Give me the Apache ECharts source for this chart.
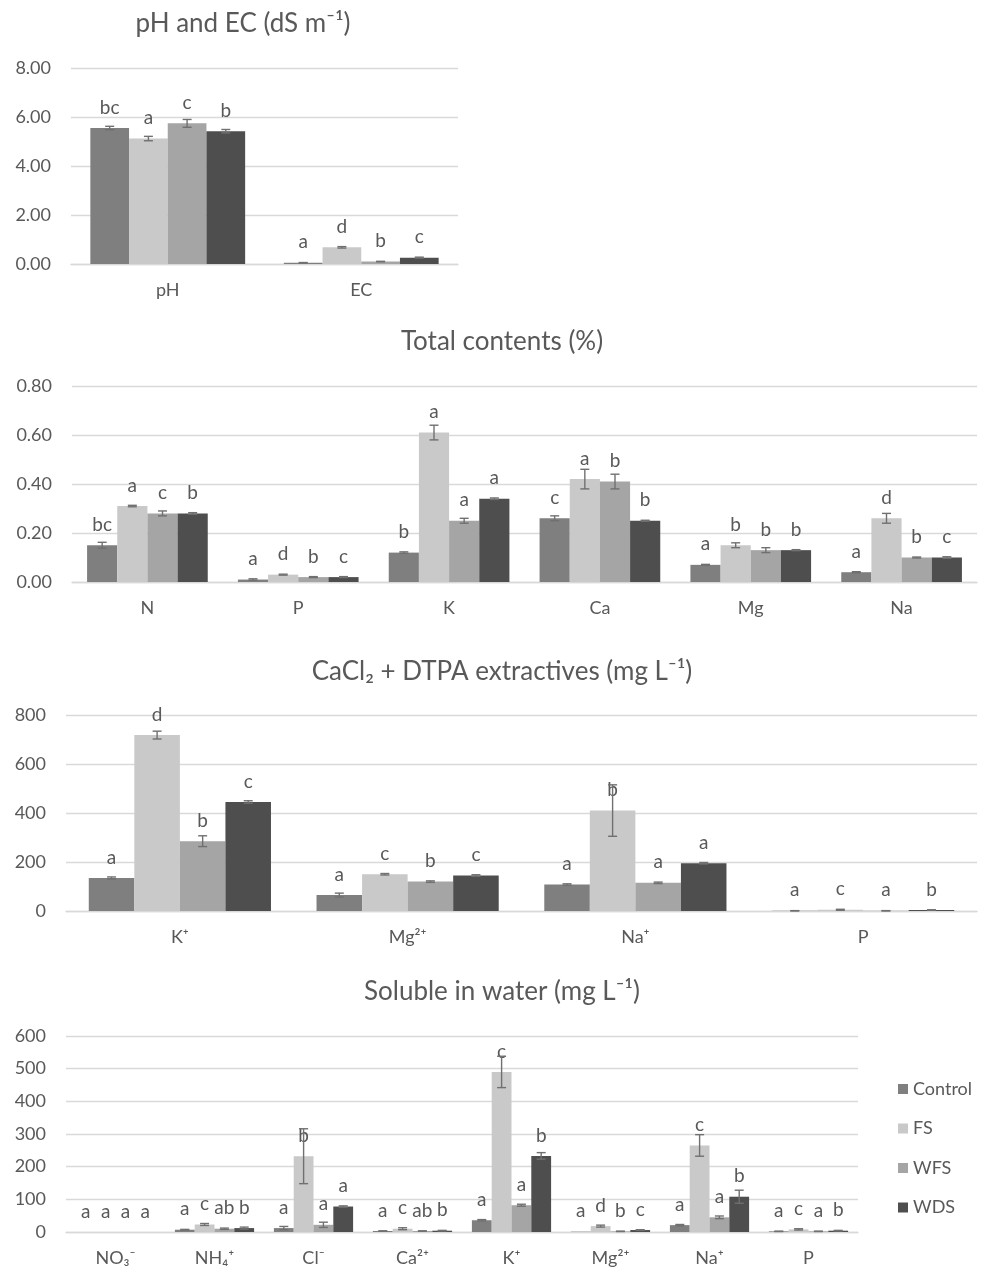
<!DOCTYPE html>
<html><head><meta charset="utf-8">
<script src="https://cdn.jsdelivr.net/npm/echarts@6/dist/echarts.min.js"></script>
<style>html,body{margin:0;padding:0;background:#fff}#c{width:987px;height:1269px}</style>
</head><body><div id="c"></div>
<script>
const seriesNames = ['Control', 'FS', 'WFS', 'WDS'];

// Panel 1: pH and EC
const cats1 = ['pH', 'EC'];
const p1Control = [5.55, 0.05], p1ControlErr = [0.07, 0.01], p1ControlLab = ['bc', 'a'];
const p1FS = [5.12, 0.68], p1FSErr = [0.09, 0.03], p1FSLab = ['a', 'd'];
const p1WFS = [5.74, 0.10], p1WFSErr = [0.16, 0.01], p1WFSLab = ['c', 'b'];
const p1WDS = [5.42, 0.26], p1WDSErr = [0.07, 0.02], p1WDSLab = ['b', 'c'];

// Panel 2: Total contents (%)
const cats2 = ['N', 'P', 'K', 'Ca', 'Mg', 'Na'];
const p2Control = [0.15, 0.01, 0.12, 0.26, 0.07, 0.04], p2ControlErr = [0.012, 0.003, 0.003, 0.01, 0.002, 0.002], p2ControlLab = ['bc', 'a', 'b', 'c', 'a', 'a'];
const p2FS = [0.31, 0.03, 0.61, 0.42, 0.15, 0.26], p2FSErr = [0.003, 0.002, 0.03, 0.04, 0.01, 0.02], p2FSLab = ['a', 'd', 'a', 'a', 'b', 'd'];
const p2WFS = [0.28, 0.02, 0.25, 0.41, 0.13, 0.10], p2WFSErr = [0.01, 0.002, 0.01, 0.03, 0.01, 0.002], p2WFSLab = ['c', 'b', 'a', 'b', 'b', 'b'];
const p2WDS = [0.28, 0.02, 0.34, 0.25, 0.13, 0.10], p2WDSErr = [0.003, 0.002, 0.003, 0.002, 0.002, 0.003], p2WDSLab = ['b', 'c', 'a', 'b', 'b', 'c'];

// Panel 3: CaCl2 + DTPA extractives (mg L-1)
const cats3 = ['K⁺', 'Mg²⁺', 'Na⁺', 'P'];
const p3Control = [135, 65, 108, 1], p3ControlErr = [4, 8, 3, 0.5], p3ControlLab = ['a', 'a', 'a', 'a'];
const p3FS = [718, 150, 410, 5], p3FSErr = [16, 3, 105, 2], p3FSLab = ['d', 'c', 'b', 'c'];
const p3WFS = [285, 120, 115, 1], p3WFSErr = [22, 3, 3, 0.5], p3WFSLab = ['b', 'b', 'a', 'a'];
const p3WDS = [445, 145, 195, 4], p3WDSErr = [5, 3, 3, 1], p3WDSLab = ['c', 'c', 'a', 'b'];

// Panel 4: Soluble in water (mg L-1)
const cats4 = ['NO₃⁻', 'NH₄⁺', 'Cl⁻', 'Ca²⁺', 'K⁺', 'Mg²⁺', 'Na⁺', 'P'];
const p4Control = [0, 7, 12, 3, 36, 1, 21, 2], p4ControlErr = [0, 1, 5, 0.5, 2, 0, 2, 0.5], p4ControlLab = ['a', 'a', 'a', 'a', 'a', 'a', 'a', 'a'];
const p4FS = [0, 23, 232, 10, 490, 18, 265, 8], p4FSErr = [0, 3, 84, 3, 48, 3, 33, 2], p4FSLab = ['a', 'c', 'b', 'c', 'c', 'd', 'c', 'c'];
const p4WFS = [0, 10, 22, 3, 82, 2, 45, 2], p4WFSErr = [0, 2, 8, 0.5, 3, 0.5, 4, 0.5], p4WFSLab = ['a', 'ab', 'a', 'ab', 'a', 'b', 'a', 'a'];
const p4WDS = [0, 12, 78, 4, 233, 6, 108, 4], p4WDSErr = [0, 3, 2, 1, 10, 1, 20, 1], p4WDSLab = ['a', 'b', 'a', 'b', 'b', 'c', 'b', 'b'];

const yMax = [8, 0.8, 800, 600];
const yInterval = [2, 0.2, 200, 100];
const yDecimals = [2, 2, 0, 0];
const titles = ['pH and EC (dS m⁻¹)', 'Total contents (%)', 'CaCl₂ + DTPA extractives (mg L⁻¹)', 'Soluble in water (mg L⁻¹)'];

const panels = [
  { cats: cats1, vals: [p1Control, p1FS, p1WFS, p1WDS], errs: [p1ControlErr, p1FSErr, p1WFSErr, p1WDSErr], labs: [p1ControlLab, p1FSLab, p1WFSLab, p1WDSLab] },
  { cats: cats2, vals: [p2Control, p2FS, p2WFS, p2WDS], errs: [p2ControlErr, p2FSErr, p2WFSErr, p2WDSErr], labs: [p2ControlLab, p2FSLab, p2WFSLab, p2WDSLab] },
  { cats: cats3, vals: [p3Control, p3FS, p3WFS, p3WDS], errs: [p3ControlErr, p3FSErr, p3WFSErr, p3WDSErr], labs: [p3ControlLab, p3FSLab, p3WFSLab, p3WDSLab] },
  { cats: cats4, vals: [p4Control, p4FS, p4WFS, p4WDS], errs: [p4ControlErr, p4FSErr, p4WFSErr, p4WDSErr], labs: [p4ControlLab, p4FSLab, p4WFSLab, p4WDSLab] }
];

// layout / style
const FONT = 'Lato';
const TXT = '#595959';
const GRIDC = '#d9d9d9';
const colors = ['#7f7f7f', '#c9c9c9', '#a5a5a5', '#4e4e4e'];
const grids = [
  { left: 71, width: 387, top: 68, height: 196 },
  { left: 72, width: 905, top: 386, height: 196 },
  { left: 66, width: 911, top: 715, height: 196 },
  { left: 66, width: 792, top: 1036, height: 196 }
];
const titlePos = [
  { x: 238, y: 6 },
  { x: 497, y: 324 },
  { x: 497, y: 654 },
  { x: 497, y: 974 }
];

const option = {
  backgroundColor: '#fff',
  animation: false,
  textStyle: { fontFamily: FONT },
  color: colors,
  title: titles.map((t, i) => ({
    text: t, left: titlePos[i].x, top: titlePos[i].y, textAlign: 'center',
    textStyle: { color: TXT, fontSize: 26, fontWeight: 'normal', fontFamily: FONT }
  })),
  legend: {
    data: seriesNames, orient: 'vertical', left: 893, top: 1075,
    itemWidth: 10, itemHeight: 10, itemGap: 21.5, icon: 'rect',
    textStyle: { color: TXT, fontSize: 18, fontFamily: FONT }
  },
  grid: grids.map(g => Object.assign({ containLabel: false }, g)),
  xAxis: panels.map((p, i) => ({
    type: 'category', gridIndex: i, data: p.cats,
    axisLine: { lineStyle: { color: GRIDC, width: 1.3 } },
    axisTick: { show: false },
    axisLabel: { color: TXT, fontSize: 18, margin: 17, fontFamily: FONT }
  })),
  yAxis: panels.map((p, i) => ({
    type: 'value', gridIndex: i, min: 0, max: yMax[i], interval: yInterval[i],
    axisLine: { show: false }, axisTick: { show: false },
    splitLine: { lineStyle: { color: GRIDC, width: 1.3 } },
    axisLabel: { color: TXT, fontSize: 18, margin: 20, fontFamily: FONT,
      formatter: v => v.toFixed(yDecimals[i]) }
  })),
  series: []
};

panels.forEach((p, gi) => {
  p.vals.forEach((vals, s) => {
    option.series.push({
      type: 'bar', name: seriesNames[s], xAxisIndex: gi, yAxisIndex: gi,
      data: vals, barGap: '0%', barCategoryGap: '20%',
      itemStyle: { color: colors[s] },
      label: {
        show: true, position: 'top', distance: 11, color: TXT, fontSize: 19, fontFamily: FONT,
        formatter: pr => p.labs[s][pr.dataIndex]
      },
      emphasis: { disabled: true }
    });
  });
  p.vals.forEach((vals, s) => {
    const errs = p.errs[s];
    option.series.push({
      type: 'custom', name: seriesNames[s], xAxisIndex: gi, yAxisIndex: gi, z: 5, silent: true,
      data: vals.map((v, i) => [i, v - errs[i], v + errs[i], errs[i]]),
      encode: { x: 0, y: [1, 2] },
      renderItem: (params, api) => {
        if (!(api.value(3) > 0)) return null;
        const band = api.size([1, 0])[0];
        const bw = band * 0.8 / 4;
        const dx = -band * 0.4 + bw * (s + 0.5);
        const lo = api.coord([api.value(0), api.value(1)]);
        const hi = api.coord([api.value(0), api.value(2)]);
        const x = lo[0] + dx, hw = 4.5;
        const st = { stroke: '#707070', lineWidth: 1.4 };
        return { type: 'group', children: [
          { type: 'line', shape: { x1: x, y1: hi[1], x2: x, y2: lo[1] }, style: st },
          { type: 'line', shape: { x1: x - hw, y1: hi[1], x2: x + hw, y2: hi[1] }, style: st },
          { type: 'line', shape: { x1: x - hw, y1: lo[1], x2: x + hw, y2: lo[1] }, style: st }
        ] };
      }
    });
  });
});

const chart = echarts.init(document.getElementById('c'), null, { renderer: 'canvas' });
chart.setOption(option);
</script>
</body></html>
